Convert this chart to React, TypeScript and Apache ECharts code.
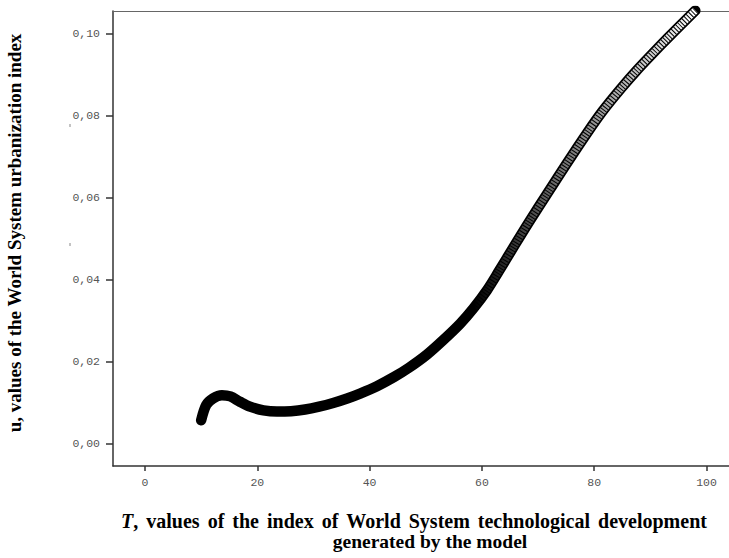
import React, { useEffect, useRef } from "react";
import * as echarts from "echarts";

// T values (index of technological development)
const tValues = [10, 10.9, 12.1, 13.7, 15.2, 16.9, 18.7, 21.1, 23.5, 26, 28.5, 31, 33.5, 36, 38.3, 41.3, 44.3, 47, 50.2, 53, 56.1, 58.5, 60.9, 63, 65.7, 68.5, 71.6, 75, 78.7, 81.5, 84.7, 87.5, 90.6, 93, 95.4, 98];
// u values (urbanization index)
const uValues = [0.0058, 0.0095, 0.0111, 0.0119, 0.0116, 0.0103, 0.0091, 0.0082, 0.0079, 0.0080, 0.0084, 0.0091, 0.0100, 0.0111, 0.0123, 0.0141, 0.0163, 0.0186, 0.0218, 0.0252, 0.0293, 0.0331, 0.0375, 0.0421, 0.0482, 0.0544, 0.0610, 0.0682, 0.0758, 0.0812, 0.0866, 0.0910, 0.0955, 0.0989, 0.1022, 0.1057];

const xTicks = [0, 20, 40, 60, 80, 100];
const yTicks = [0, 0.02, 0.04, 0.06, 0.08, 0.1];

const yTitle = "u, values of the World System urbanization index";
const xTitleItalic = "T";
const xTitleWords = ["values", "of", "the", "index", "of", "World", "System", "technological", "development"];
const xTitleLine2 = "generated by the model";

export default function App() {
  const ref = useRef<HTMLDivElement>(null);
  useEffect(() => {
    if (!ref.current) return;
    const chart = echarts.init(ref.current, undefined, { renderer: "svg" });
    const all = tValues.map((t, i) => [t, uValues[i]]);
    const upper = all.filter((p) => p[0] >= 58.5);
    const tickLabelStyle = {
      fontFamily: "Liberation Mono",
      fontSize: 11.5,
      color: "#555",
    };
    const titleFont = { fontFamily: "Liberation Serif", fontWeight: "bold", fontSize: 19, lineHeight: 20, fill: "#000" };
    const line1Font = { ...titleFont, fontSize: 20 };
    const line1 = `{i|${xTitleItalic}}{b|,}{s| }` + xTitleWords.map((w) => `{b|${w}}`).join("{s| }");
    chart.setOption({
      animation: false,
      backgroundColor: "#fff",
      grid: { left: 113, right: 0, top: 11, bottom: 92, containLabel: false },
      xAxis: [
        {
          type: "value",
          min: -5.7,
          max: 104,
          axisLine: { show: true, onZero: false, lineStyle: { color: "#333", width: 1.5 } },
          axisTick: { show: true, customValues: xTicks, length: 5, lineStyle: { color: "#333", width: 1.5 } },
          axisLabel: { customValues: xTicks, margin: 10, ...tickLabelStyle },
          splitLine: { show: false },
        },
        {
          type: "value",
          position: "top",
          min: -5.7,
          max: 104,
          axisLine: { show: true, onZero: false, lineStyle: { color: "#666", width: 1 } },
          axisTick: { show: false },
          axisLabel: { show: false },
          splitLine: { show: false },
        },
      ],
      yAxis: {
        type: "value",
        min: -0.00537,
        max: 0.1056,
        axisLine: { show: true, onZero: false, lineStyle: { color: "#333", width: 1.5 } },
        axisTick: { show: true, customValues: yTicks, length: 7, lineStyle: { color: "#333", width: 1.5 } },
        axisLabel: {
          customValues: yTicks,
          margin: 13,
          formatter: (v: number) => v.toFixed(2).replace(".", ","),
          ...tickLabelStyle,
        },
        splitLine: { show: false },
      },
      series: [
        {
          type: "line",
          data: all,
          smooth: 0.3,
          symbol: "none",
          lineStyle: { color: "#000", width: 10.5, cap: "round", join: "round" },
          z: 2,
        },
        {
          type: "line",
          data: upper,
          smooth: 0.3,
          symbol: "none",
          lineStyle: {
            width: 7,
            color: new echarts.graphic.LinearGradient(0, 0, 1, 0, [
              { offset: 0, color: "rgba(255,255,255,0)" },
              { offset: 0.35, color: "rgba(255,255,255,0.4)" },
              { offset: 1, color: "rgba(255,255,255,1)" },
            ]),
          },
          z: 3,
        },
        {
          type: "line",
          data: upper,
          smooth: 0.3,
          symbol: "none",
          lineStyle: { width: 7.5, color: "#000", type: [1, 2] },
          z: 4,
        },
      ],
      graphic: [
        {
          type: "text",
          x: 14,
          y: 233,
          rotation: Math.PI / 2,
          style: {
            text: yTitle,
            ...titleFont,
            align: "center",
            verticalAlign: "middle",
          },
        },
        {
          type: "text",
          x: 414,
          y: 521,
          style: {
            text: line1,
            align: "center",
            verticalAlign: "middle",
            rich: {
              i: { ...line1Font, fontStyle: "italic" },
              b: { ...line1Font },
              s: { ...line1Font, width: 8 },
            },
          },
        },
        {
          type: "text",
          x: 430,
          y: 541,
          style: {
            text: xTitleLine2,
            ...titleFont,
            fontSize: 19.5,
            align: "center",
            verticalAlign: "middle",
          },
        },
        { type: "line", shape: { x1: 70, y1: 124, x2: 70, y2: 127 }, style: { stroke: "#888", lineWidth: 1 } },
        { type: "line", shape: { x1: 70, y1: 243, x2: 70, y2: 246 }, style: { stroke: "#888", lineWidth: 1 } },
      ],
    });
    return () => chart.dispose();
  }, []);
  return (
    <div
      ref={ref}
      style={{ position: "absolute", left: 0, top: 0, width: 729, height: 558 }}
    />
  );
}
